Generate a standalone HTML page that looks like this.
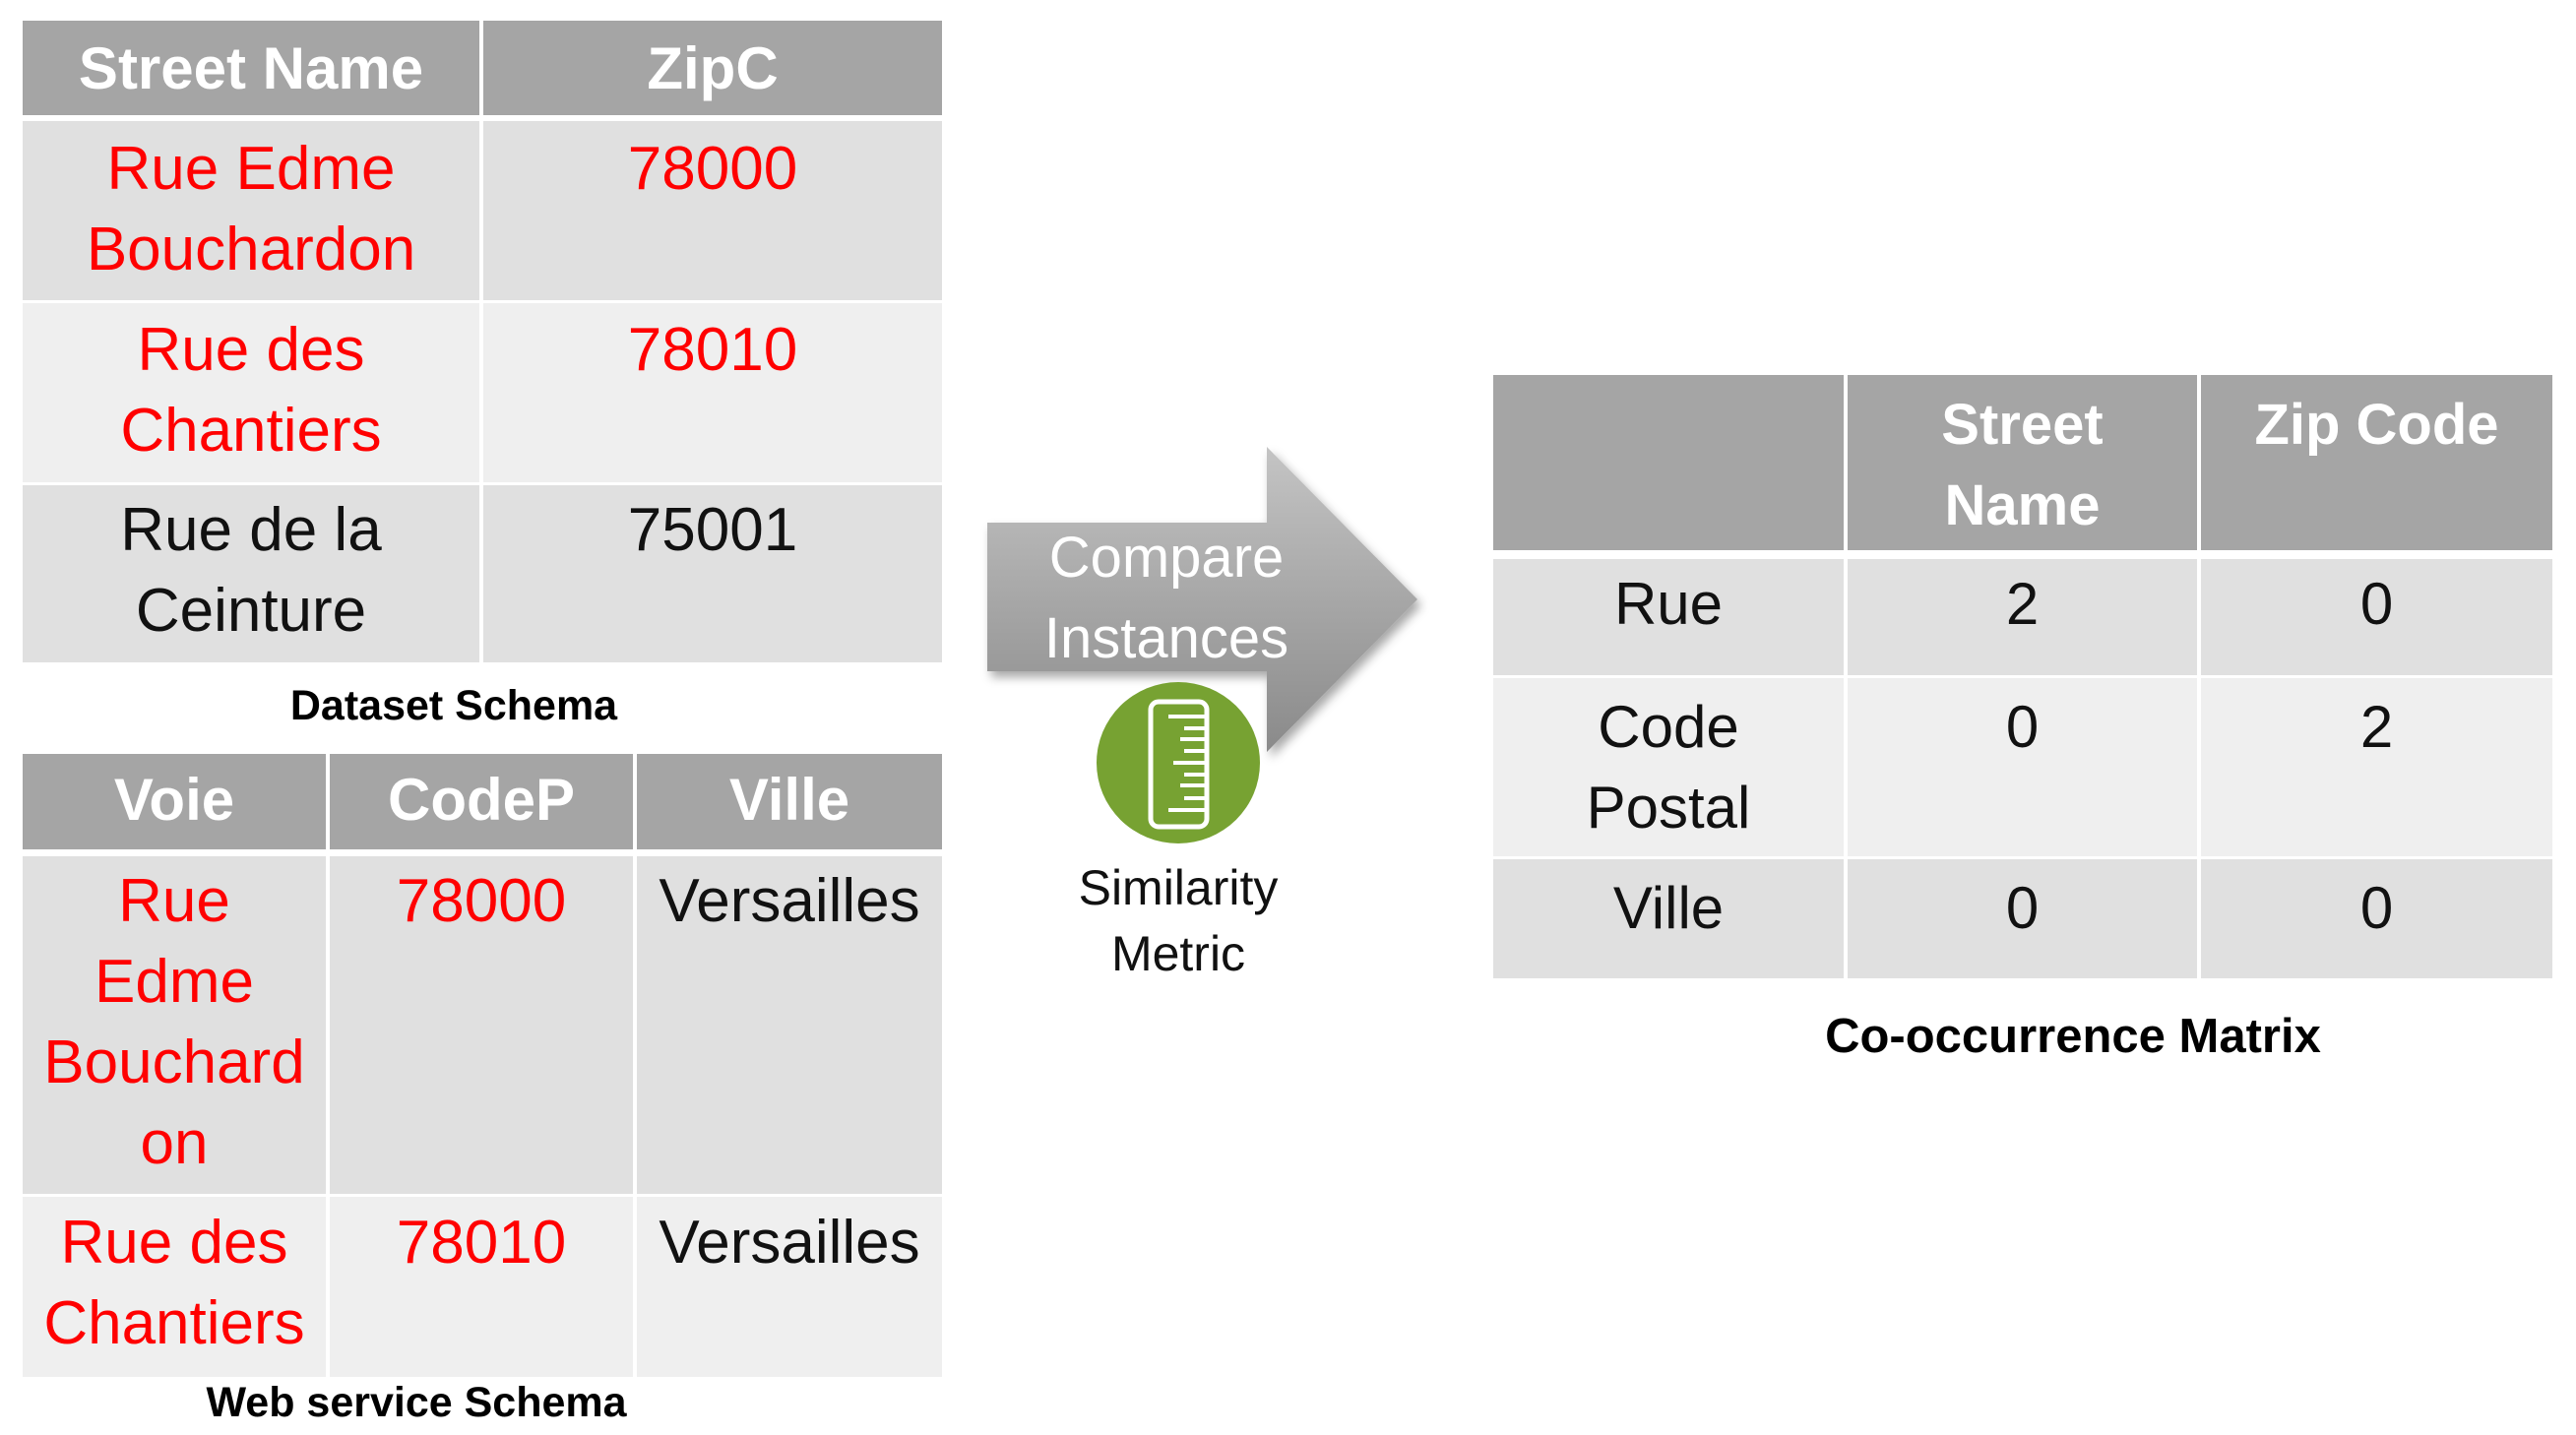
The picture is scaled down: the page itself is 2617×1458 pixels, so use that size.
<!DOCTYPE html>
<html><head><meta charset="utf-8"><style>
body{margin:0;width:2617px;height:1458px;background:#fff;position:relative;overflow:hidden;font-family:"Liberation Sans",sans-serif}
.c{position:absolute;box-sizing:border-box}
.h{background:#a5a5a5}
.d{background:#e0e0e0}
.l{background:#efefef}
.t{position:absolute;left:0;right:0;text-align:center;line-height:82px;font-size:62px;white-space:nowrap}
.w{color:#fff;font-weight:bold;font-size:60px}
.r{color:#ff0000}
.k{color:#111}
.cap{position:absolute;font-weight:bold;color:#000;text-align:center;white-space:nowrap}
</style></head><body>
<!-- Table 1 -->
<div class="c h" style="left:23px;top:21px;width:464px;height:96px"><div class="t w" style="top:8px">Street Name</div></div>
<div class="c h" style="left:491px;top:21px;width:466px;height:96px"><div class="t w" style="top:8px">ZipC</div></div>
<div class="c d" style="left:23px;top:123px;width:464px;height:182px"><div class="t r" style="top:8px">Rue Edme<br>Bouchardon</div></div>
<div class="c d" style="left:491px;top:123px;width:466px;height:182px"><div class="t r" style="top:8px">78000</div></div>
<div class="c l" style="left:23px;top:308px;width:464px;height:182px"><div class="t r" style="top:7px">Rue des<br>Chantiers</div></div>
<div class="c l" style="left:491px;top:308px;width:466px;height:182px"><div class="t r" style="top:7px">78010</div></div>
<div class="c d" style="left:23px;top:493px;width:464px;height:180px"><div class="t k" style="top:5px">Rue de la<br>Ceinture</div></div>
<div class="c d" style="left:491px;top:493px;width:466px;height:180px"><div class="t k" style="top:5px">75001</div></div>
<div class="cap" style="left:23px;width:876px;top:690px;font-size:43px;line-height:54px">Dataset Schema</div>
<!-- Table 2 -->
<div class="c h" style="left:23px;top:766px;width:308px;height:97px"><div class="t w" style="top:6px">Voie</div></div>
<div class="c h" style="left:335px;top:766px;width:308px;height:97px"><div class="t w" style="top:6px">CodeP</div></div>
<div class="c h" style="left:647px;top:766px;width:310px;height:97px"><div class="t w" style="top:6px">Ville</div></div>
<div class="c d" style="left:23px;top:870px;width:308px;height:343px"><div class="t r" style="top:5px">Rue<br>Edme<br>Bouchard<br>on</div></div>
<div class="c d" style="left:335px;top:870px;width:308px;height:343px"><div class="t r" style="top:5px">78000</div></div>
<div class="c d" style="left:647px;top:870px;width:310px;height:343px"><div class="t k" style="top:5px">Versailles</div></div>
<div class="c l" style="left:23px;top:1216px;width:308px;height:183px"><div class="t r" style="top:6px">Rue des<br>Chantiers</div></div>
<div class="c l" style="left:335px;top:1216px;width:308px;height:183px"><div class="t r" style="top:6px">78010</div></div>
<div class="c l" style="left:647px;top:1216px;width:310px;height:183px"><div class="t k" style="top:6px">Versailles</div></div>
<div class="cap" style="left:23px;width:800px;top:1398px;font-size:43px;line-height:54px">Web service Schema</div>
<!-- Arrow -->
<svg style="position:absolute;left:0;top:0" width="2617" height="1458">
<defs><linearGradient id="g" x1="0" y1="0" x2="0" y2="1"><stop offset="0" stop-color="#c4c4c4"/><stop offset="1" stop-color="#8a8a8a"/></linearGradient>
<filter id="s" x="-10%" y="-10%" width="130%" height="130%"><feDropShadow dx="4" dy="6" stdDeviation="5" flood-color="#000" flood-opacity="0.35"/></filter></defs>
<polygon points="1003,531 1287,531 1287,454 1440,609 1287,764 1287,682 1003,682" fill="url(#g)" filter="url(#s)"/>
<ellipse cx="1197" cy="775" rx="83" ry="82" fill="#77a232"/>
<rect x="1169" y="713" width="57" height="127" rx="8" fill="none" stroke="#fff" stroke-width="5"/>
<g stroke="#fff" stroke-width="4">
<line x1="1187" y1="728" x2="1224" y2="728"/><line x1="1203" y1="740" x2="1224" y2="740"/><line x1="1199" y1="751" x2="1224" y2="751"/><line x1="1203" y1="763" x2="1224" y2="763"/><line x1="1192" y1="775" x2="1224" y2="775"/><line x1="1203" y1="787" x2="1224" y2="787"/><line x1="1199" y1="798" x2="1224" y2="798"/><line x1="1203" y1="811" x2="1224" y2="811"/><line x1="1187" y1="823" x2="1224" y2="823"/>
</g>
</svg>
<div class="t" style="left:1005px;right:auto;width:360px;top:526px;color:#fff;font-size:58px">Compare<br>Instances</div>
<div class="t" style="left:1047px;right:auto;width:300px;top:869px;color:#111;font-size:50px;line-height:67px">Similarity<br>Metric</div>
<!-- Matrix -->
<div class="c h" style="left:1517px;top:381px;width:356px;height:178px"></div>
<div class="c h" style="left:1877px;top:381px;width:355px;height:178px"><div class="t w" style="top:10px;font-size:58px">Street<br>Name</div></div>
<div class="c h" style="left:2236px;top:381px;width:357px;height:178px"><div class="t w" style="top:10px;font-size:58px">Zip Code</div></div>
<div class="c d" style="left:1517px;top:568px;width:356px;height:118px"><div class="t k" style="top:5px;font-size:60px">Rue</div></div>
<div class="c d" style="left:1877px;top:568px;width:355px;height:118px"><div class="t k" style="top:5px;font-size:60px">2</div></div>
<div class="c d" style="left:2236px;top:568px;width:357px;height:118px"><div class="t k" style="top:5px;font-size:60px">0</div></div>
<div class="c l" style="left:1517px;top:689px;width:356px;height:181px"><div class="t k" style="top:9px;font-size:60px">Code<br>Postal</div></div>
<div class="c l" style="left:1877px;top:689px;width:355px;height:181px"><div class="t k" style="top:9px;font-size:60px">0</div></div>
<div class="c l" style="left:2236px;top:689px;width:357px;height:181px"><div class="t k" style="top:9px;font-size:60px">2</div></div>
<div class="c d" style="left:1517px;top:873px;width:356px;height:121px"><div class="t k" style="top:9px;font-size:60px">Ville</div></div>
<div class="c d" style="left:1877px;top:873px;width:355px;height:121px"><div class="t k" style="top:9px;font-size:60px">0</div></div>
<div class="c d" style="left:2236px;top:873px;width:357px;height:121px"><div class="t k" style="top:9px;font-size:60px">0</div></div>
<div class="cap" style="left:1806px;width:600px;top:1023px;font-size:49px;line-height:60px">Co-occurrence Matrix</div>
</body></html>
